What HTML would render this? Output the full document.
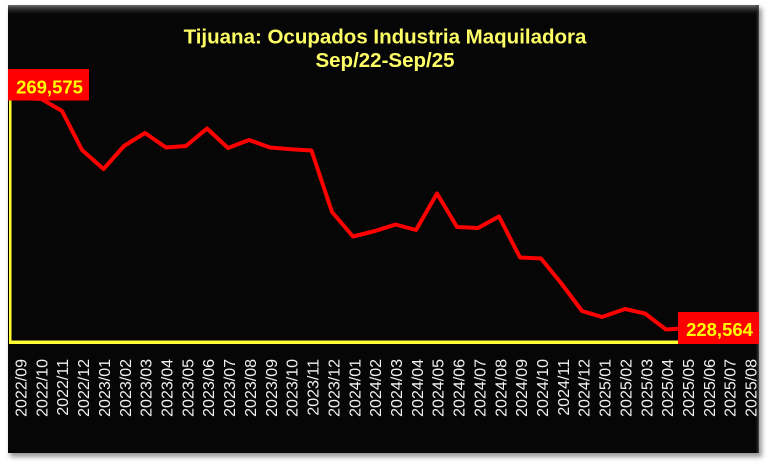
<!DOCTYPE html>
<html>
<head>
<meta charset="utf-8">
<style>
  html, body { margin:0; padding:0; background:#ffffff; }
  body { width:768px; height:468px; overflow:hidden; }
  svg { display:block; }
</style>
</head>
<body>
<svg width="768" height="468" viewBox="0 0 768 468" xmlns="http://www.w3.org/2000/svg">
  <defs>
    <filter id="sh" x="-5%" y="-5%" width="110%" height="110%">
      <feGaussianBlur stdDeviation="2.5"/>
    </filter>
    <linearGradient id="topbev" x1="0" y1="0" x2="0" y2="1">
      <stop offset="0" stop-color="#7a7a7a" stop-opacity="0.9"/>
      <stop offset="1" stop-color="#060606" stop-opacity="0"/>
    </linearGradient>
    <linearGradient id="rightbev" x1="0" y1="0" x2="1" y2="0">
      <stop offset="0" stop-color="#060606" stop-opacity="0"/>
      <stop offset="1" stop-color="#5a5a5a" stop-opacity="0.8"/>
    </linearGradient>
  </defs>

  <!-- shadow -->
  <rect x="10" y="8" width="752" height="449" fill="#9a9a9a" filter="url(#sh)"/>
  <!-- panel -->
  <rect x="8" y="5" width="751" height="448" fill="#060606"/>
  <rect x="8" y="5" width="751" height="11" fill="url(#topbev)"/>
  <rect x="755" y="5" width="4" height="448" fill="url(#rightbev)"/>

  <!-- title -->
  <g font-family="'Liberation Sans', Arial, sans-serif" font-weight="bold" font-size="20.5" fill="#ffff66" text-anchor="middle">
    <text x="385" y="43.5">Tijuana: Ocupados Industria Maquiladora</text>
    <text x="385" y="67">Sep/22-Sep/25</text>
  </g>

  <!-- axes -->
  <rect x="9" y="100" width="2.5" height="244" fill="#ffff33"/>
  <rect x="9" y="340.5" width="750" height="3.5" fill="#ffff33"/>

  <!-- series -->
  <polyline fill="none" stroke="#ff0000" stroke-width="4" stroke-linejoin="round" stroke-linecap="round"
    points="20.5,98 41.4,99 62,111 82,150 103.5,169 124,146 145,133 166,147.5 186,146 207,128.5 228,148 249,140 270,147.5 291,149.3 311.5,150.5 332,212 353,236.5 375,231 395.5,224.5 416,230 437,193.5 457,227 478,228 499,216.5 520,257.5 541,258.5 561,283 582,311 602,317 625,309 645,313.5 666,329.5 688,328"/>

  <!-- data labels -->
  <rect x="8" y="69" width="81" height="31.5" fill="#ff0000"/>
  <text x="49.5" y="93.5" font-family="'Liberation Sans', Arial, sans-serif" font-weight="bold" font-size="18.5" fill="#ffff00" text-anchor="middle">269,575</text>
  <rect x="678" y="312" width="81" height="32" fill="#ff0000"/>
  <text x="719.5" y="336" font-family="'Liberation Sans', Arial, sans-serif" font-weight="bold" font-size="18.5" fill="#ffff00" text-anchor="middle">228,564</text>

  <!-- x axis labels -->
  <g font-family="'Liberation Sans', Arial, sans-serif" font-size="16" fill="#f2f2f2" text-anchor="end">
    <text transform="translate(26.5,359) rotate(-90)">2022/09</text>
    <text transform="translate(47.4,359) rotate(-90)">2022/10</text>
    <text transform="translate(68.2,359) rotate(-90)">2022/11</text>
    <text transform="translate(89.1,359) rotate(-90)">2022/12</text>
    <text transform="translate(109.9,359) rotate(-90)">2023/01</text>
    <text transform="translate(130.8,359) rotate(-90)">2023/02</text>
    <text transform="translate(151.7,359) rotate(-90)">2023/03</text>
    <text transform="translate(172.5,359) rotate(-90)">2023/04</text>
    <text transform="translate(193.4,359) rotate(-90)">2023/05</text>
    <text transform="translate(214.2,359) rotate(-90)">2023/06</text>
    <text transform="translate(235.1,359) rotate(-90)">2023/07</text>
    <text transform="translate(256.0,359) rotate(-90)">2023/08</text>
    <text transform="translate(276.8,359) rotate(-90)">2023/09</text>
    <text transform="translate(297.7,359) rotate(-90)">2023/10</text>
    <text transform="translate(318.5,359) rotate(-90)">2023/11</text>
    <text transform="translate(339.4,359) rotate(-90)">2023/12</text>
    <text transform="translate(360.3,359) rotate(-90)">2024/01</text>
    <text transform="translate(381.1,359) rotate(-90)">2024/02</text>
    <text transform="translate(402.0,359) rotate(-90)">2024/03</text>
    <text transform="translate(422.8,359) rotate(-90)">2024/04</text>
    <text transform="translate(443.7,359) rotate(-90)">2024/05</text>
    <text transform="translate(464.6,359) rotate(-90)">2024/06</text>
    <text transform="translate(485.4,359) rotate(-90)">2024/07</text>
    <text transform="translate(506.3,359) rotate(-90)">2024/08</text>
    <text transform="translate(527.1,359) rotate(-90)">2024/09</text>
    <text transform="translate(548.0,359) rotate(-90)">2024/10</text>
    <text transform="translate(568.9,359) rotate(-90)">2024/11</text>
    <text transform="translate(589.7,359) rotate(-90)">2024/12</text>
    <text transform="translate(610.6,359) rotate(-90)">2025/01</text>
    <text transform="translate(631.4,359) rotate(-90)">2025/02</text>
    <text transform="translate(652.3,359) rotate(-90)">2025/03</text>
    <text transform="translate(673.2,359) rotate(-90)">2025/04</text>
    <text transform="translate(694.0,359) rotate(-90)">2025/05</text>
    <text transform="translate(714.9,359) rotate(-90)">2025/06</text>
    <text transform="translate(735.7,359) rotate(-90)">2025/07</text>
    <text transform="translate(756.6,359) rotate(-90)">2025/08</text>
  </g>
</svg>
</body>
</html>
